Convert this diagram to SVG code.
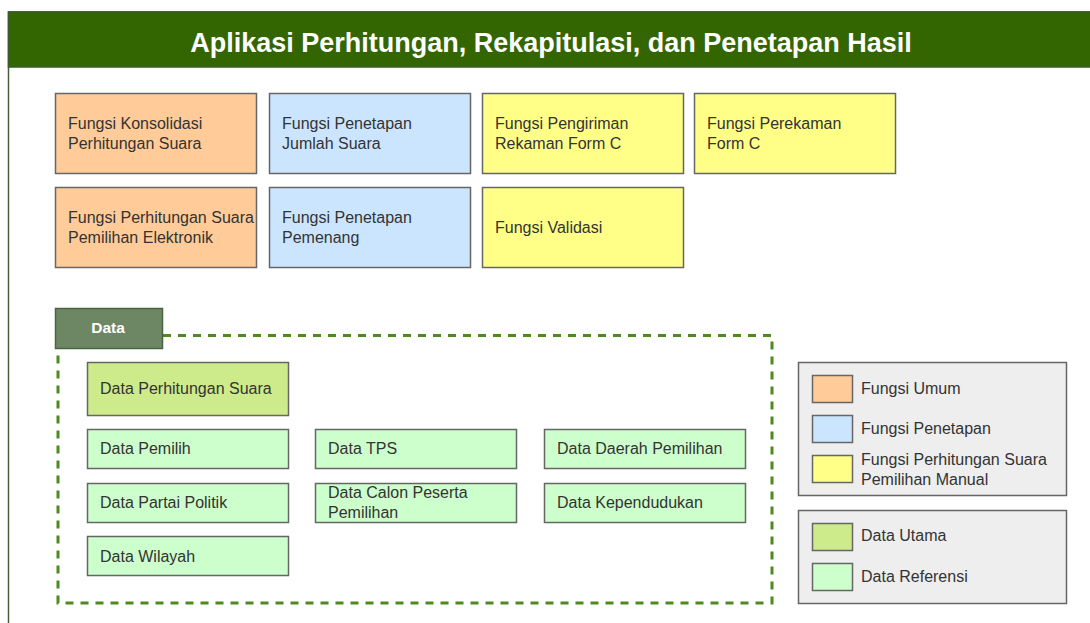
<svg xmlns="http://www.w3.org/2000/svg" width="1090" height="623" viewBox="0 0 1090 623">
  <style>
    .lbl { font-family: "Liberation Sans", Arial, sans-serif; font-size: 16px; fill: #333333; }
    .box { stroke: #666666; stroke-width: 1.5; }
    .umum { fill: #FFCC99; }
    .tetap { fill: #CCE5FF; }
    .manual { fill: #FFFF88; }
    .utama { fill: #CDEB8B; }
    .ref { fill: #CCFFCC; }
    .legend { fill: #EEEEEE; stroke: #666666; stroke-width: 1.5; }
  </style>

  <!-- application frame -->
  <g id="frame">
    <rect x="8.5" y="12" width="1100" height="640" fill="#FFFFFF" stroke="#4A5E3A" stroke-width="1.5"/>
    <rect x="8.5" y="12" width="1100" height="55" fill="#336600" stroke="#3D5A2A" stroke-width="1.5"/>
    <text x="551" y="52" text-anchor="middle" font-family="Liberation Sans, Arial, sans-serif" font-size="27" font-weight="bold" fill="#FFFFFF">Aplikasi Perhitungan, Rekapitulasi, dan Penetapan Hasil</text>
  </g>

  <!-- function blocks -->
  <g id="fungsi-konsolidasi">
    <rect class="box umum" x="55.5" y="93.5" width="201" height="80"/>
    <text class="lbl" x="68" y="129">Fungsi Konsolidasi</text>
    <text class="lbl" x="68" y="149">Perhitungan Suara</text>
  </g>
  <g id="fungsi-penetapan-jumlah">
    <rect class="box tetap" x="269.5" y="93.5" width="201" height="80"/>
    <text class="lbl" x="282" y="129">Fungsi Penetapan</text>
    <text class="lbl" x="282" y="149">Jumlah Suara</text>
  </g>
  <g id="fungsi-pengiriman">
    <rect class="box manual" x="482.5" y="93.5" width="201" height="80"/>
    <text class="lbl" x="495" y="129">Fungsi Pengiriman</text>
    <text class="lbl" x="495" y="149">Rekaman Form C</text>
  </g>
  <g id="fungsi-perekaman">
    <rect class="box manual" x="694.5" y="93.5" width="201" height="80"/>
    <text class="lbl" x="707" y="129">Fungsi Perekaman</text>
    <text class="lbl" x="707" y="149">Form C</text>
  </g>
  <g id="fungsi-elektronik">
    <rect class="box umum" x="55.5" y="187.5" width="201" height="80"/>
    <text class="lbl" x="68" y="223">Fungsi Perhitungan Suara</text>
    <text class="lbl" x="68" y="243">Pemilihan Elektronik</text>
  </g>
  <g id="fungsi-penetapan-pemenang">
    <rect class="box tetap" x="269.5" y="187.5" width="201" height="80"/>
    <text class="lbl" x="282" y="223">Fungsi Penetapan</text>
    <text class="lbl" x="282" y="243">Pemenang</text>
  </g>
  <g id="fungsi-validasi">
    <rect class="box manual" x="482.5" y="187.5" width="201" height="80"/>
    <text class="lbl" x="495" y="233">Fungsi Validasi</text>
  </g>

  <!-- data container -->
  <g id="data-group">
    <rect x="58" y="335.5" width="714" height="267.5" fill="none" stroke="#4F8A1E" stroke-width="3" stroke-dasharray="8 7"/>
    <rect x="55.5" y="308.5" width="107" height="40" fill="#6D8764" stroke="#4A6340" stroke-width="1.5"/>
    <text x="108" y="333" text-anchor="middle" font-family="Liberation Sans, Arial, sans-serif" font-size="15.5" font-weight="bold" fill="#FFFFFF">Data</text>
  </g>

  <g id="data-perhitungan-suara">
    <rect class="box utama" x="87.5" y="362.5" width="201" height="53"/>
    <text class="lbl" x="100" y="394">Data Perhitungan Suara</text>
  </g>
  <g id="data-pemilih">
    <rect class="box ref" x="87.5" y="429.5" width="201" height="39"/>
    <text class="lbl" x="100" y="454">Data Pemilih</text>
  </g>
  <g id="data-tps">
    <rect class="box ref" x="315.5" y="429.5" width="201" height="39"/>
    <text class="lbl" x="328" y="454">Data TPS</text>
  </g>
  <g id="data-daerah-pemilihan">
    <rect class="box ref" x="544.5" y="429.5" width="201" height="39"/>
    <text class="lbl" x="557" y="454">Data Daerah Pemilihan</text>
  </g>
  <g id="data-partai-politik">
    <rect class="box ref" x="87.5" y="483.5" width="201" height="39"/>
    <text class="lbl" x="100" y="508">Data Partai Politik</text>
  </g>
  <g id="data-calon-peserta">
    <rect class="box ref" x="315.5" y="483.5" width="201" height="39"/>
    <text class="lbl" x="328" y="498">Data Calon Peserta</text>
    <text class="lbl" x="328" y="518">Pemilihan</text>
  </g>
  <g id="data-kependudukan">
    <rect class="box ref" x="544.5" y="483.5" width="201" height="39"/>
    <text class="lbl" x="557" y="508">Data Kependudukan</text>
  </g>
  <g id="data-wilayah">
    <rect class="box ref" x="87.5" y="536.5" width="201" height="39"/>
    <text class="lbl" x="100" y="562">Data Wilayah</text>
  </g>

  <!-- legends -->
  <g id="legend-fungsi">
    <rect class="legend" x="798.5" y="362.5" width="268" height="133"/>
    <rect class="box umum" x="812.5" y="375.5" width="40" height="27"/>
    <text class="lbl" x="861" y="394">Fungsi Umum</text>
    <rect class="box tetap" x="812.5" y="415.5" width="40" height="27"/>
    <text class="lbl" x="861" y="434">Fungsi Penetapan</text>
    <rect class="box manual" x="812.5" y="455.5" width="40" height="27"/>
    <text class="lbl" x="861" y="465">Fungsi Perhitungan Suara</text>
    <text class="lbl" x="861" y="485">Pemilihan Manual</text>
  </g>
  <g id="legend-data">
    <rect class="legend" x="798.5" y="510.5" width="268" height="93"/>
    <rect class="box utama" x="812.5" y="523.5" width="40" height="27"/>
    <text class="lbl" x="861" y="541">Data Utama</text>
    <rect class="box ref" x="812.5" y="563.5" width="40" height="27"/>
    <text class="lbl" x="861" y="582">Data Referensi</text>
  </g>

  <!-- connectors (none drawn) -->
  <g id="connectors"/>
</svg>
